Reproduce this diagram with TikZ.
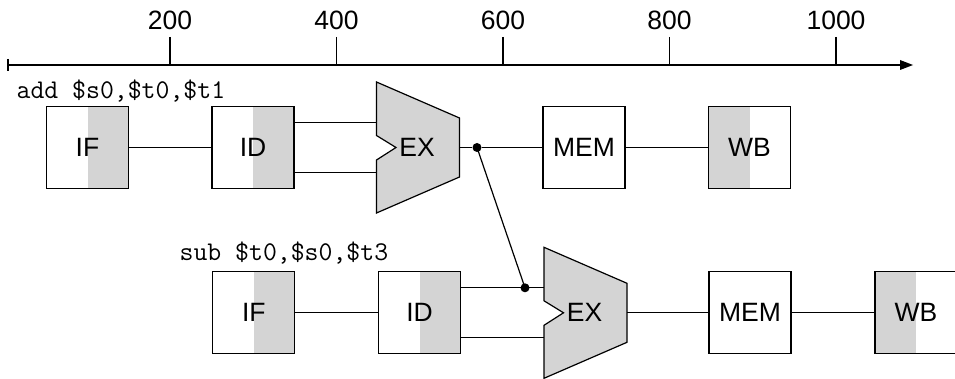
\documentclass[tikz,border=0pt]{standalone}
\usepackage{fontspec}
\setmainfont{Liberation Sans}
\definecolor{stagegray}{gray}{0.83}
\newcommand{\stagefont}{\fontsize{26.5}{30}\selectfont}
\newcommand{\instrfont}{\ttfamily\fontsize{27}{30}\selectfont}
\begin{document}
\begin{tikzpicture}[x=1pt,y=1pt,line width=1.2pt]
		\tikzstyle{every node}+=[inner sep=0pt]
		\tikzstyle{stage}=[draw, minimum size=82pt, font=\stagefont]
		\tikzstyle{shaderight}=[path picture={\fill [stagegray] (path picture bounding box.north) rectangle (path picture bounding box.south east);}]
		\tikzstyle{shadeleft}=[path picture={\fill [stagegray] (path picture bounding box.north) rectangle (path picture bounding box.south west);}]
		\tikzstyle{alu}=[draw, fill=stagegray, line join=miter]
		\tikzstyle{junction}=[circle, fill=black, minimum size=9pt]
		\useasboundingbox (0,0) rectangle (955,-379);
		% time axis
		\draw [black] (8,-59) -- (8,-71);
		\draw [black] (8,-65) -- (901,-65);
		\fill [black] (913,-65) -- (900,-60) -- (900,-70) -- cycle;
		\foreach \t/\x in {200/170,400/336.5,600/503,800/669.5,1000/836} {
			\draw [black] (\x,-37) -- (\x,-65);
			\draw (\x,-20) node [font=\stagefont] {\t};
		}
		% add $s0,$t0,$t1
		\node [anchor=base west, font=\instrfont] (addtxt) at (16,-99) {add \$s0,\$t0,\$t1};
		\node [stage, shaderight] (if1) at (87.5,-147.5) {IF};
		\node [stage, shaderight] (id1) at (253,-147.5) {ID};
		\draw [alu] (376.5,-82) -- (459.5,-118) -- (459.5,-177) -- (376.5,-213) -- (376.5,-160) -- (396,-147.5) -- (376.5,-135.5) -- cycle;
		\node [font=\stagefont] (ex1) at (417,-147.5) {EX};
		\coordinate (ex1a) at (376.5,-122.5);
		\coordinate (ex1b) at (376.5,-172.5);
		\coordinate (ex1o) at (459.5,-147.5);
		\node [junction] (fw1) at (477,-147.5) {};
		\node [stage] (mem1) at (584,-147.5) {MEM};
		\node [stage, shadeleft] (wb1) at (749.5,-147.5) {WB};
		\draw (if1) -- (id1);
		\draw (id1.east |- ex1a) -- (ex1a);
		\draw (id1.east |- ex1b) -- (ex1b);
		\draw (ex1o) -- (fw1) -- (mem1);
		\draw (mem1) -- (wb1);
		% sub $t0,$s0,$t3
		\node [anchor=base west, font=\instrfont] (subtxt) at (179,-261) {sub \$t0,\$s0,\$t3};
		\node [stage, shaderight] (if2) at (253.8,-312.8) {IF};
		\node [stage, shaderight] (id2) at (419.5,-312.8) {ID};
		\draw [alu] (544,-247.3) -- (627,-283.3) -- (627,-342.3) -- (544,-378.3) -- (544,-325.3) -- (563.5,-312.8) -- (544,-300.8) -- cycle;
		\node [font=\stagefont] (ex2) at (584.5,-312.8) {EX};
		\coordinate (ex2a) at (544,-287.8);
		\coordinate (ex2b) at (544,-337.8);
		\coordinate (ex2o) at (627,-312.8);
		\node [junction] (fw2) at (525,-287.8) {};
		\node [stage] (mem2) at (750,-312.8) {MEM};
		\node [stage, shadeleft] (wb2) at (916,-312.8) {WB};
		\draw (if2) -- (id2);
		\draw (id2.east |- ex2a) -- (ex2a);
		\draw (id2.east |- ex2b) -- (ex2b);
		\draw (ex2o) -- (mem2);
		\draw (mem2) -- (wb2);
		% forwarding
		\draw (fw1.center) -- (fw2.center);
	\end{tikzpicture}
\end{document}
